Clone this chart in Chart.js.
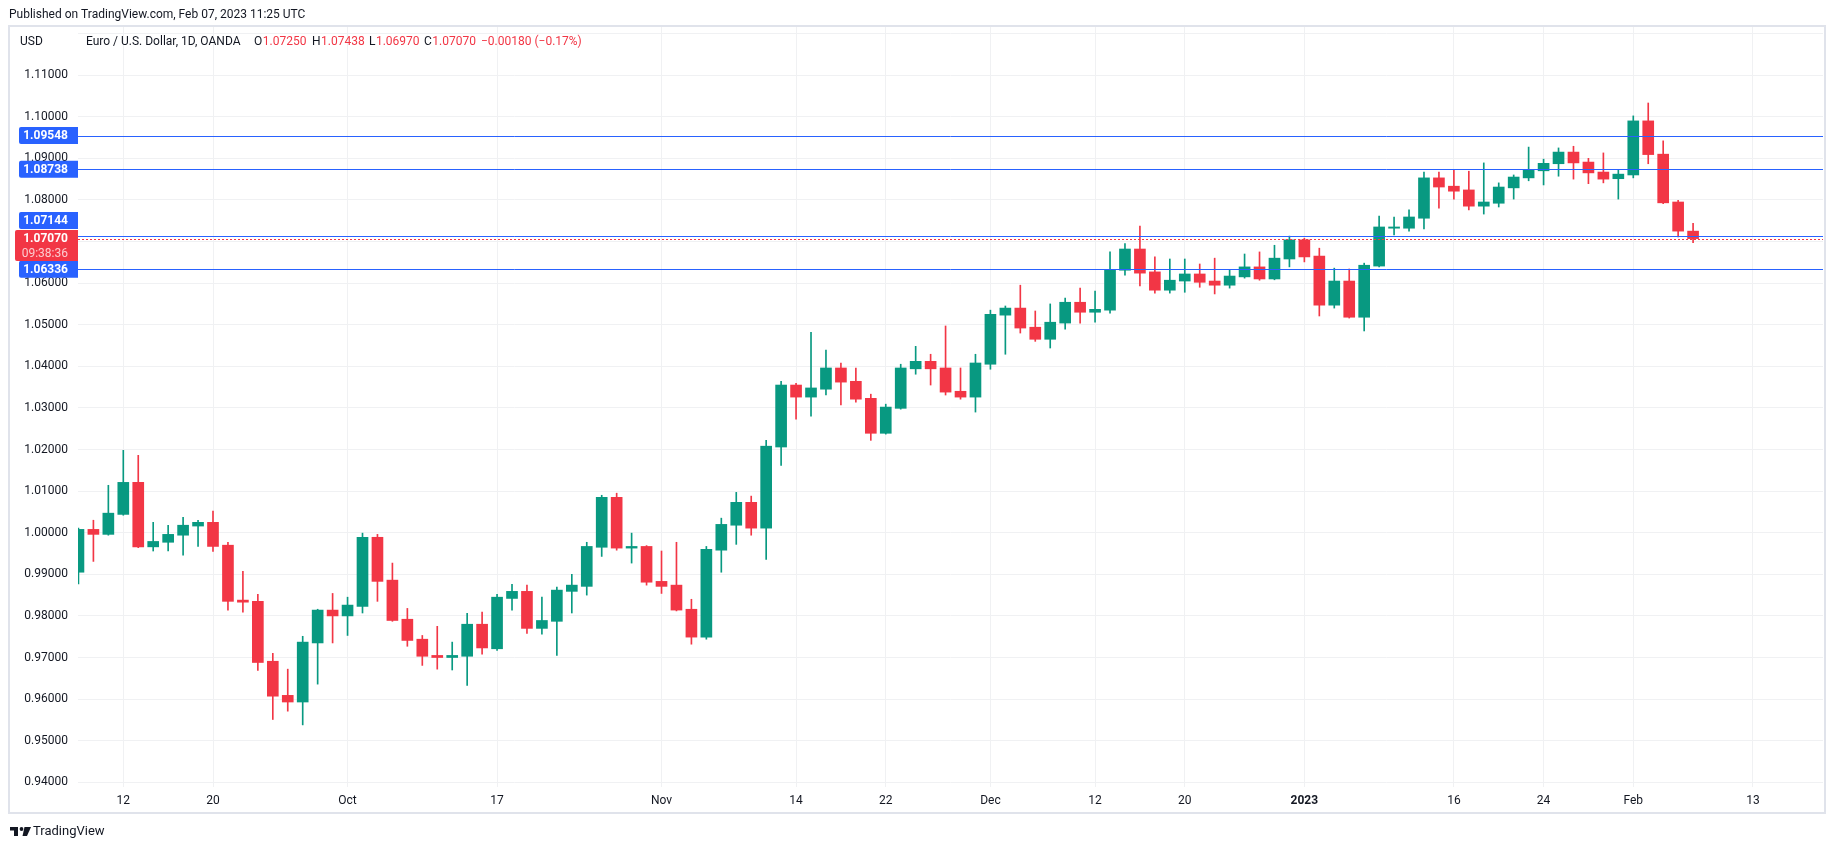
<!DOCTYPE html>
<html>
<head>
<meta charset="utf-8">
<title>EURUSD 1D</title>
<script src="https://cdn.jsdelivr.net/npm/chart.js@4/dist/chart.umd.min.js"></script>
<style>
    html, body { margin: 0; padding: 0; background: #ffffff; }
    canvas { display: block; }
</style>
</head>
<body>
<canvas id="grafico" width="1834" height="850"></canvas>
<script>
// daily bars, OANDA EUR/USD (no bar on Dec 26)
const dates = [
    '2022-09-07', '2022-09-08', '2022-09-09',
    '2022-09-12', '2022-09-13', '2022-09-14', '2022-09-15', '2022-09-16',
    '2022-09-19', '2022-09-20', '2022-09-21', '2022-09-22', '2022-09-23',
    '2022-09-26', '2022-09-27', '2022-09-28', '2022-09-29', '2022-09-30',
    '2022-10-03', '2022-10-04', '2022-10-05', '2022-10-06', '2022-10-07',
    '2022-10-10', '2022-10-11', '2022-10-12', '2022-10-13', '2022-10-14',
    '2022-10-17', '2022-10-18', '2022-10-19', '2022-10-20', '2022-10-21',
    '2022-10-24', '2022-10-25', '2022-10-26', '2022-10-27', '2022-10-28',
    '2022-10-31', '2022-11-01', '2022-11-02', '2022-11-03', '2022-11-04',
    '2022-11-07', '2022-11-08', '2022-11-09', '2022-11-10', '2022-11-11',
    '2022-11-14', '2022-11-15', '2022-11-16', '2022-11-17', '2022-11-18',
    '2022-11-21', '2022-11-22', '2022-11-23', '2022-11-24', '2022-11-25',
    '2022-11-28', '2022-11-29', '2022-11-30', '2022-12-01', '2022-12-02',
    '2022-12-05', '2022-12-06', '2022-12-07', '2022-12-08', '2022-12-09',
    '2022-12-12', '2022-12-13', '2022-12-14', '2022-12-15', '2022-12-16',
    '2022-12-19', '2022-12-20', '2022-12-21', '2022-12-22', '2022-12-23',
    '2022-12-27', '2022-12-28', '2022-12-29', '2022-12-30',
    '2023-01-02', '2023-01-03', '2023-01-04', '2023-01-05', '2023-01-06',
    '2023-01-09', '2023-01-10', '2023-01-11', '2023-01-12', '2023-01-13',
    '2023-01-16', '2023-01-17', '2023-01-18', '2023-01-19', '2023-01-20',
    '2023-01-23', '2023-01-24', '2023-01-25', '2023-01-26', '2023-01-27',
    '2023-01-30', '2023-01-31', '2023-02-01', '2023-02-02', '2023-02-03',
    '2023-02-06', '2023-02-07'
];

const opens = [
    0.9905, 1.0008, 0.9996,
    1.0044, 1.0121, 0.9966, 0.9977, 0.9994,
    1.0016, 1.0025, 0.9970, 0.9838, 0.9835,
    0.9691, 0.9609, 0.9593, 0.9735, 0.9814,
    0.9800, 0.9823, 0.9989, 0.9886, 0.9792,
    0.9744, 0.9705, 0.9700, 0.9703, 0.9780,
    0.9721, 0.9842, 0.9859, 0.9770, 0.9787,
    0.9859, 0.9871, 0.9965, 1.0085, 0.9963,
    0.9967, 0.9883, 0.9874, 0.9816, 0.9749,
    0.9958, 1.0018, 1.0073, 1.0011, 1.0206,
    1.0355, 1.0326, 1.0345, 1.0396, 1.0364,
    1.0323, 1.0239, 1.0299, 1.0394, 1.0412,
    1.0396, 1.0340, 1.0326, 1.0405, 1.0523,
    1.0540, 1.0494, 1.0465, 1.0504, 1.0554,
    1.0530, 1.0535, 1.0631, 1.0682, 1.0627,
    1.0583, 1.0605, 1.0622, 1.0605, 1.0595,
    1.0615, 1.0639, 1.0610, 1.0658,
    1.0704, 1.0665, 1.0547, 1.0605, 1.0518,
    1.0641, 1.0732, 1.0732, 1.0756, 1.0853,
    1.0833, 1.0824, 1.0785, 1.0792, 1.0829,
    1.0853, 1.0870, 1.0887, 1.0915, 1.0891,
    1.0867, 1.0851, 1.0860, 1.0990, 1.0910,
    1.0795, 1.07250
];
const highs = [
    1.0011, 1.0030, 1.0114,
    1.0198, 1.0186, 1.0025, 1.0018, 1.0037,
    1.0030, 1.0052, 0.9977, 0.9907, 0.9852,
    0.9710, 0.9672, 0.9751, 0.9816, 0.9854,
    0.9845, 0.9999, 0.9996, 0.9927, 0.9818,
    0.9753, 0.9775, 0.9737, 0.9806, 0.9809,
    0.9852, 0.9876, 0.9874, 0.9845, 0.9869,
    0.9900, 0.9977, 1.0090, 1.0095, 0.9999,
    0.9969, 0.9956, 0.9977, 0.9840, 0.9967,
    1.0035, 1.0097, 1.0088, 1.0222, 1.0364,
    1.0359, 1.0482, 1.0439, 1.0408, 1.0396,
    1.0333, 1.0309, 1.0405, 1.0448, 1.0429,
    1.0497, 1.0396, 1.0429, 1.0535, 1.0545,
    1.0595, 1.0533, 1.0550, 1.0564, 1.0588,
    1.0581, 1.0675, 1.0695, 1.0737, 1.0663,
    1.0658, 1.0658, 1.0646, 1.0660, 1.0631,
    1.0670, 1.0675, 1.0691, 1.0713,
    1.0708, 1.0684, 1.0636, 1.0634, 1.0648,
    1.0761, 1.0759, 1.0776, 1.0867, 1.0867,
    1.0872, 1.0869, 1.0889, 1.0841, 1.0860,
    1.0927, 1.0898, 1.0925, 1.0929, 1.0900,
    1.0913, 1.0873, 1.1002, 1.1033, 1.0942,
    1.0799, 1.07438
];
const lows = [
    0.9877, 0.9931, 0.9994,
    1.0042, 0.9964, 0.9956, 0.9956, 0.9946,
    0.9967, 0.9955, 0.9814, 0.9809, 0.9669,
    0.9551, 0.9571, 0.9538, 0.9636, 0.9735,
    0.9753, 0.9807, 0.9835, 0.9787, 0.9727,
    0.9681, 0.9672, 0.9670, 0.9633, 0.9708,
    0.9717, 0.9814, 0.9758, 0.9756, 0.9705,
    0.9807, 0.9850, 0.9943, 0.9958, 0.9927,
    0.9874, 0.9854, 0.9812, 0.9732, 0.9744,
    0.9905, 0.9972, 0.9994, 0.9936, 1.0162,
    1.0273, 1.0280, 1.0331, 1.0307, 1.0314,
    1.0222, 1.0237, 1.0297, 1.0381, 1.0355,
    1.0331, 1.0321, 1.0290, 1.0393, 1.0429,
    1.0480, 1.0460, 1.0444, 1.0489, 1.0504,
    1.0506, 1.0528, 1.0619, 1.0593, 1.0576,
    1.0576, 1.0578, 1.0590, 1.0574, 1.0588,
    1.0612, 1.0607, 1.0608, 1.0639,
    1.0651, 1.0521, 1.0540, 1.0516, 1.0485,
    1.0639, 1.0716, 1.0725, 1.0730, 1.0780,
    1.0802, 1.0776, 1.0766, 1.0783, 1.0802,
    1.0846, 1.0836, 1.0857, 1.0850, 1.0839,
    1.0841, 1.0802, 1.0853, 1.0887, 1.0791,
    1.0711, 1.06970
];
const closes = [
    1.0008, 0.9996, 1.0047,
    1.0121, 0.9966, 0.9979, 0.9996, 1.0018,
    1.0025, 0.9967, 0.9835, 0.9833, 0.9688,
    0.9607, 0.9593, 0.9737, 0.9814, 0.9800,
    0.9826, 0.9989, 0.9883, 0.9789, 0.9741,
    0.9703, 0.9700, 0.9705, 0.9780, 0.9723,
    0.9845, 0.9859, 0.9770, 0.9789, 0.9862,
    0.9874, 0.9967, 1.0085, 0.9963, 0.9967,
    0.9881, 0.9871, 0.9814, 0.9749, 0.9960,
    1.0020, 1.0073, 1.0011, 1.0208, 1.0355,
    1.0326, 1.0348, 1.0396, 1.0362, 1.0321,
    1.0239, 1.0302, 1.0396, 1.0412, 1.0394,
    1.0338, 1.0326, 1.0408, 1.0525, 1.0540,
    1.0492, 1.0465, 1.0506, 1.0554, 1.0530,
    1.0537, 1.0631, 1.0682, 1.0624, 1.0583,
    1.0607, 1.0622, 1.0602, 1.0595, 1.0617,
    1.0639, 1.0610, 1.0660, 1.0704,
    1.0663, 1.0547, 1.0605, 1.0518, 1.0643,
    1.0735, 1.0735, 1.0759, 1.0853, 1.0831,
    1.0821, 1.0785, 1.0795, 1.0831, 1.0855,
    1.0873, 1.0888, 1.0915, 1.0889, 1.0865,
    1.0850, 1.0862, 1.0990, 1.0909, 1.0793,
    1.0725, 1.07070
];

// horizontal lines drawn on the chart
const levels = [1.09548, 1.08738, 1.07144, 1.06336];

const tickDates = ['2022-09-12', '2022-09-20', '2022-10-03', '2022-10-17', '2022-11-01', '2022-11-14', '2022-11-22',
    '2022-12-01', '2022-12-12', '2022-12-20', '2023-01-02', '2023-01-16', '2023-01-24', '2023-02-01', '2023-02-13'];
const tickLabels = ['12', '20', 'Oct', '17', 'Nov', '14', '22', 'Dec', '12', '20', '2023', '16', '24', 'Feb', '13'];
const priceTicks = [0.94, 0.95, 0.96, 0.97, 0.98, 0.99, 1.00, 1.01, 1.02, 1.03, 1.04, 1.05, 1.06, 1.07, 1.08, 1.09, 1.10, 1.11, 1.12];

const VERDE = '#089981';
const VERMELHO = '#f23645';
const AZUL = '#2962ff';
const TEXTO = '#131722';
const GRADE = '#f0f1f3';
const FONTE = 'Roboto, "Liberation Sans", sans-serif';

// bar index of a date; days after the last bar are counted as weekdays
function posicao(d) {
    const i = dates.indexOf(d);
    if (i >= 0) return i;
    let n = dates.length - 1;
    const t = new Date(dates[n] + 'T00:00:00Z');
    const fim = new Date(d + 'T00:00:00Z');
    while (t < fim) {
        t.setUTCDate(t.getUTCDate() + 1);
        const w = t.getUTCDay();
        if (w !== 0 && w !== 6) n++;
    }
    return n;
}
const tickPos = tickDates.map(posicao);

const cores = dates.map((d, i) => closes[i] >= opens[i] ? VERDE : VERMELHO);
const last = dates.length - 1;

function f5(v) {
    return v.toFixed(5);
}

const extras = {
    id: 'extras',
    afterDatasetsDraw(chart) {
        const { ctx, chartArea: a, scales: { y } } = chart;
        ctx.save();
        ctx.lineWidth = 1;
        ctx.strokeStyle = AZUL;
        levels.forEach(v => {
            const py = Math.round(y.getPixelForValue(v)) + 0.5;
            ctx.beginPath();
            ctx.moveTo(a.left, py);
            ctx.lineTo(a.right, py);
            ctx.stroke();
        });
        // last price, dotted
        const pl = Math.round(y.getPixelForValue(closes[last])) + 0.5;
        ctx.strokeStyle = VERMELHO;
        ctx.setLineDash([2, 2]);
        ctx.beginPath();
        ctx.moveTo(a.left, pl);
        ctx.lineTo(a.right, pl);
        ctx.stroke();
        ctx.restore();
    },
    afterDraw(chart) {
        const { ctx, chartArea: a, scales: { y } } = chart;
        ctx.save();

        // panel frame
        ctx.strokeStyle = '#e0e3eb';
        ctx.lineWidth = 2;
        ctx.strokeRect(9, 26, 1816, 787);

        // price labels on the scale
        const yl = y.getPixelForValue(closes[last]);
        const rTop = yl - 8.5, rBot = yl + 22.5;
        ctx.textAlign = 'right';
        ctx.textBaseline = 'middle';
        levels.forEach(v => {
            let yc = y.getPixelForValue(v);
            if (yc + 8.5 > rTop + 1 && yc - 8.5 < rBot - 1) {
                yc = yc < yl ? rTop - 9.5 : rBot + 9.5;
            }
            ctx.fillStyle = AZUL;
            ctx.beginPath();
            ctx.roundRect(19, yc - 8.5, a.left - 19, 17, [2, 0, 0, 2]);
            ctx.fill();
            ctx.fillStyle = '#ffffff';
            ctx.font = 'bold 12px ' + FONTE;
            ctx.fillText(f5(v), 68, yc + 0.5);
        });
        ctx.fillStyle = VERMELHO;
        ctx.beginPath();
        ctx.roundRect(15, rTop, a.left - 15, rBot - rTop, [2, 0, 0, 2]);
        ctx.fill();
        ctx.fillStyle = '#ffffff';
        ctx.font = 'bold 12px ' + FONTE;
        ctx.fillText(f5(closes[last]), 68, yl + 0.5);
        ctx.fillStyle = 'rgba(255,255,255,0.75)';
        ctx.font = '12px ' + FONTE;
        ctx.fillText('09:38:36', 68, yl + 15);

        // header and legend
        ctx.textAlign = 'left';
        ctx.fillStyle = TEXTO;
        ctx.font = '12px ' + FONTE;
        ctx.fillText('Published on TradingView.com, Feb 07, 2023 11:25 UTC', 9, 14.5);
        ctx.fillText('USD', 20, 41.5);
        ctx.fillText('Euro / U.S. Dollar, 1D, OANDA', 86, 41.5);

        const chg = closes[last] - closes[last - 1];
        const pct = chg / closes[last - 1] * 100;
        const menos = s => s.replace('-', '\u2212');
        const campos = [
            ['O', opens[last], 254],
            ['H', highs[last], 312],
            ['L', lows[last], 369],
            ['C', closes[last], 424]
        ];
        campos.forEach(([t, v, x]) => {
            ctx.fillStyle = TEXTO;
            ctx.fillText(t, x, 41.5);
            ctx.fillStyle = VERMELHO;
            ctx.fillText(f5(v), x + ctx.measureText(t).width + 0.5, 41.5);
        });
        ctx.fillText(menos(chg.toFixed(5)) + ' (' + menos(pct.toFixed(2)) + '%)', 481, 41.5);

        // logo
        ctx.fillStyle = TEXTO;
        ctx.fillRect(10, 827, 8, 3.5);
        ctx.fillRect(14, 827, 4, 9);
        ctx.beginPath();
        ctx.arc(21.5, 829, 1.9, 0, Math.PI * 2);
        ctx.fill();
        ctx.beginPath();
        ctx.moveTo(24.5, 827);
        ctx.lineTo(31, 827);
        ctx.lineTo(27, 836);
        ctx.lineTo(22.5, 836);
        ctx.closePath();
        ctx.fill();
        ctx.font = '13px ' + FONTE;
        ctx.fillText('TradingView', 33, 832);

        ctx.restore();
    }
};

const ctx = document.getElementById('grafico');

new Chart(ctx, {
    type: 'bar',
    data: {
        datasets: [{
            label: 'body',
            data: dates.map((d, i) => ({ x: i, y: [opens[i], closes[i]] })),
            backgroundColor: cores,
            barThickness: 11,
            minBarLength: 1,
            grouped: false,
            clip: 0
        }, {
            label: 'wick',
            data: dates.map((d, i) => ({ x: i, y: [lows[i], highs[i]] })),
            backgroundColor: cores,
            barThickness: 1,
            grouped: false,
            clip: 0
        }]
    },
    options: {
        responsive: false,
        animation: false,
        devicePixelRatio: 1,
        layout: {
            padding: { left: 0, right: 11, top: 27, bottom: 0 }
        },
        plugins: {
            legend: { display: false },
            tooltip: { enabled: false }
        },
        scales: {
            x: {
                type: 'linear',
                offset: false,
                min: -0.03,
                max: 116.69,
                grid: { color: GRADE, drawTicks: false, offset: false },
                border: { display: false },
                afterBuildTicks: axis => {
                    axis.ticks = tickPos.map(v => ({ value: v }));
                },
                afterFit: scale => {
                    scale.height = 63;
                },
                ticks: {
                    autoSkip: false,
                    maxRotation: 0,
                    padding: 7,
                    color: TEXTO,
                    font: c => ({ family: FONTE, size: 12, weight: tickLabels[c.index] === '2023' ? 'bold' : 'normal' }),
                    callback: (v, i) => tickLabels[i]
                }
            },
            y: {
                min: 0.93887,
                max: 1.12157,
                grid: { color: GRADE, drawTicks: false },
                border: { display: false },
                afterBuildTicks: axis => {
                    axis.ticks = priceTicks.map(v => ({ value: v }));
                },
                afterFit: scale => {
                    scale.width = 78;
                },
                ticks: {
                    autoSkip: false,
                    padding: 10,
                    color: TEXTO,
                    font: { family: FONTE, size: 12 },
                    callback: v => v > 1.115 ? '' : f5(v)
                }
            }
        }
    },
    plugins: [extras]
});
</script>
</body>
</html>
